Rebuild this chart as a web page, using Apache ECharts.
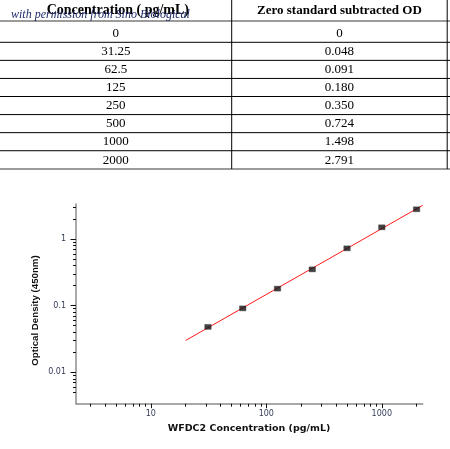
<!DOCTYPE html>
<html>
<head>
<meta charset="utf-8">
<script src="https://cdn.jsdelivr.net/npm/echarts@6/dist/echarts.min.js"></script>
<style>
html,body{margin:0;padding:0;background:#fff;}
#chart{width:450px;height:449px;}
</style>
</head>
<body>
<div id="chart"></div>
<script>
// ---- data ----
const tableHeaders = ['Concentration ( pg/mL)', 'Zero standard subtracted OD'];
const concentrations = [0, 31.25, 62.5, 125, 250, 500, 1000, 2000];
const odValues = [0, 0.048, 0.091, 0.180, 0.350, 0.724, 1.498, 2.791];
const odLabels = ['0', '0.048', '0.091', '0.180', '0.350', '0.724', '1.498', '2.791'];
const fitX = [20, 2260];
const fitY = [0.030, 3.2];
const xMajorTicks = [10, 100, 1000];
const xMinorTicks = [3, 4, 5, 6, 7, 8, 9, 20, 30, 40, 50, 60, 70, 80, 90, 200, 300, 400, 500, 600, 700, 800, 900, 2000];
const yMajorTicks = [0.01, 0.1, 1];
const yMinorTicks = [0.005, 0.006, 0.007, 0.008, 0.009, 0.02, 0.03, 0.04, 0.05, 0.06, 0.07, 0.08, 0.09, 0.2, 0.3, 0.4, 0.5, 0.6, 0.7, 0.8, 0.9, 2, 3];
const xTitle = 'WFDC2 Concentration (pg/mL)';
const yTitle = 'Optical Density (450nm)';
const watermark = 'with permission from Sino Biological';

// ---- table layout (graphic) ----
const colX = [0, 231.7, 447.2];
const headerLineY = 21;
const firstLineY = 42.3;
const rowPitch = 18.07;
const bottomLineY = 169;
const g = [];
function hline(y, color, w) {
  g.push({type:'line', shape:{x1:0, y1:y, x2:450, y2:y}, style:{stroke:color, lineWidth:w}, z:1});
}
function vline(x) {
  g.push({type:'line', shape:{x1:x, y1:0, x2:x, y2:bottomLineY}, style:{stroke:'#000', lineWidth:1}, z:2});
}
function txt(s, x, y, font, fill, align, extra) {
  g.push(Object.assign({type:'text', x:x, y:y, z:5, style:{text:s, font:font, fill:fill, align:align||'center', verticalAlign:'middle', textAlign:align||'center', textVerticalAlign:'middle'}}, extra||{}));
}
hline(headerLineY, '#7a7a7a', 1.6);
for (let k = 0; k < concentrations.length - 1; k++) {
  hline(firstLineY + rowPitch * k, '#000', 1);
}
hline(bottomLineY, '#7a7a7a', 1.6);
vline(colX[1]);
vline(colX[2]);
const c1 = (colX[0] + colX[1]) / 2 + 2, c2 = (colX[1] + colX[2]) / 2;
txt(tableHeaders[0], c1, 10.5, 'bold 14px "Liberation Serif"', '#000');
txt(tableHeaders[1], c2, 10.5, 'bold 13px "Liberation Serif"', '#000');
txt(watermark, 11, 14.6, 'italic 12px "Liberation Serif"', '#1f2a6b', 'left', {z:6});
for (let i = 0; i < concentrations.length; i++) {
  const cy = i === 0 ? 33.6 : firstLineY + rowPitch * (i - 1) + 9.4;
  txt(String(concentrations[i]), c1 - 2, cy, '13px "Liberation Serif"', '#000');
  txt(odLabels[i], c2, cy, '13px "Liberation Serif"', '#000');
}
// axis titles
txt(xTitle, 249, 429, 'bold 9.5px "DejaVu Sans"', '#111');
txt(yTitle, 35, 310.5, 'bold 9.7px "Liberation Sans"', '#111', 'center', {rotation: Math.PI / 2});

// ---- chart ----
const points = [];
for (let i = 0; i < concentrations.length; i++) {
  if (concentrations[i] > 0) points.push([concentrations[i], odValues[i]]);
}
const fitLine = fitX.map((x, i) => [x, fitY[i]]);

const xMin = 2.25, xMax = 2260, yMin = 0.00338, yMax = 3.35;
const labelStyle = {fontFamily:'DejaVu Sans', fontSize:8, color:'#333a58'};
const chart = echarts.init(document.getElementById('chart'), null, {renderer:'canvas'});
chart.setOption({
  animation: false,
  backgroundColor: '#fff',
  grid: {left:76, right:27.3, top:204, bottom:45.3, containLabel:false, outerBoundsMode:'none'},
  xAxis: [
    {type:'log', min:xMin, max:xMax, position:'bottom',
     axisLine:{show:true, lineStyle:{color:'#8c8c8c', width:1.5}},
     axisTick:{show:true, customValues:xMajorTicks, length:4.5, lineStyle:{color:'#111', width:1}},
     axisLabel:Object.assign({show:true, customValues:xMajorTicks, margin:6, formatter: v => String(v)}, labelStyle),
     splitLine:{show:false}, minorTick:{show:false}},
    {type:'log', min:xMin, max:xMax, position:'bottom',
     axisLine:{show:false},
     axisTick:{show:true, customValues:xMinorTicks, length:3, lineStyle:{color:'#111', width:1}},
     axisLabel:{show:false}, splitLine:{show:false}}
  ],
  yAxis: [
    {type:'log', min:yMin, max:yMax, position:'left',
     axisLine:{show:true, lineStyle:{color:'#8c8c8c', width:1.5}},
     axisTick:{show:true, customValues:yMajorTicks, length:5.5, lineStyle:{color:'#111', width:1}},
     axisLabel:Object.assign({show:true, customValues:yMajorTicks, margin:10, formatter: v => String(v)}, labelStyle),
     splitLine:{show:false}, minorTick:{show:false}},
    {type:'log', min:yMin, max:yMax, position:'left',
     axisLine:{show:false},
     axisTick:{show:true, customValues:yMinorTicks, length:3, lineStyle:{color:'#111', width:1}},
     axisLabel:{show:false}, splitLine:{show:false}}
  ],
  series: [
    {type:'line', xAxisIndex:0, yAxisIndex:0, data:fitLine, symbol:'none',
     lineStyle:{color:'#ff1a1a', width:1}, z:2, silent:true},
    {type:'scatter', xAxisIndex:0, yAxisIndex:0, data:points, symbol:'rect', symbolSize:[6.5, 5],
     itemStyle:{color:'#111', borderColor:'#444', borderWidth:0.5}, z:3}
  ],
  graphic: g
});
</script>
</body>
</html>
